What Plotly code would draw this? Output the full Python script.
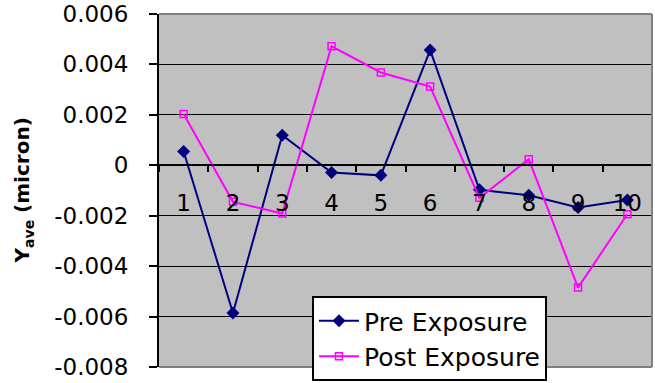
import plotly.graph_objects as go

# Sample positions along the x axis
categories = ["1", "2", "3", "4", "5", "6", "7", "8", "9", "10"]

# Average Y offset (micron) before and after exposure
pre_exposure = [0.00055, -0.00586, 0.00119, -0.00029, -0.00040,
                0.00457, -0.00097, -0.00119, -0.00167, -0.00138]
post_exposure = [0.00203, -0.00145, -0.00191, 0.00472, 0.00368,
                 0.00312, -0.00129, 0.00024, -0.00485, -0.00194]

# Y axis ticks and their labels
y_tickvals = [0.006, 0.004, 0.002, 0.0, -0.002, -0.004, -0.006, -0.008]
y_ticktext = ["0.006", "0.004", "0.002", "0", "-0.002", "-0.004", "-0.006", "-0.008"]

y_min, y_max = -0.008, 0.006
FONT = "DejaVu Sans"
W, H = 655, 383

fig = go.Figure()
fig.add_trace(go.Scatter(
    x=categories, y=pre_exposure, name="Pre Exposure",
    mode="lines+markers",
    line=dict(color="#000080", width=2),
    marker=dict(symbol="diamond", size=10, color="#000080"),
))
fig.add_trace(go.Scatter(
    x=categories, y=post_exposure, name="Post Exposure",
    mode="lines+markers",
    line=dict(color="#FF00FF", width=2),
    marker=dict(symbol="square-open", size=7, color="#FF00FF",
                line=dict(color="#FF00FF", width=1.5)),
))

# x axis sits on the zero line of the value axis
zero_pos = (0 - y_min) / (y_max - y_min)

fig.update_layout(
    width=W, height=H,
    margin=dict(l=159, r=3, t=14, b=16, autoexpand=False),
    paper_bgcolor="white",
    plot_bgcolor="#C0C0C0",
    font=dict(family=FONT, size=23, color="black"),
    showlegend=True,
    legend=dict(
        xref="container", yref="container",
        x=312 / W, y=1 - 296 / H, xanchor="left", yanchor="top",
        bgcolor="white", bordercolor="black", borderwidth=2,
        font=dict(family=FONT, size=25, color="black"),
        itemwidth=40, tracegroupgap=0,
    ),
    xaxis=dict(
        type="category",
        range=[-0.5, len(categories) - 0.5],
        anchor="free", position=zero_pos,
        showline=True, linecolor="black", linewidth=2,
        showgrid=False, zeroline=False,
        ticks="outside", tickson="boundaries", ticklen=6,
        tickcolor="black", tickwidth=2,
        ticklabelstandoff=17,
        tickfont=dict(family=FONT, size=23, color="black"),
    ),
    yaxis=dict(
        range=[y_min, y_max],
        tickvals=y_tickvals, ticktext=y_ticktext,
        showline=True, linecolor="black", linewidth=2,
        showgrid=True, gridcolor="black", gridwidth=1,
        zeroline=False,
        ticks="outside", ticklen=8, tickcolor="black", tickwidth=2,
        ticklabelstandoff=16,
        tickfont=dict(family=FONT, size=23, color="black"),
    ),
)

# Grey frame on the top, right and bottom of the plotting area
fig.add_shape(type="line", xref="paper", yref="paper", x0=0, x1=1, y0=1, y1=1,
              line=dict(color="#808080", width=2), layer="above")
fig.add_shape(type="line", xref="paper", yref="paper", x0=1, x1=1, y0=0, y1=1,
              line=dict(color="#808080", width=2), layer="above")
fig.add_shape(type="line", xref="paper", yref="paper", x0=0, x1=1, y0=0, y1=0,
              line=dict(color="#808080", width=2), layer="above")

# Value axis title with subscript
fig.add_annotation(
    text="<b>Y<sub>ave</sub> (micron)</b>",
    xref="paper", yref="paper", x=-0.276, y=0.5,
    xanchor="center", yanchor="middle", textangle=-90,
    showarrow=False,
    font=dict(family=FONT, size=20, color="black"),
)

fig.write_html("out.html")
